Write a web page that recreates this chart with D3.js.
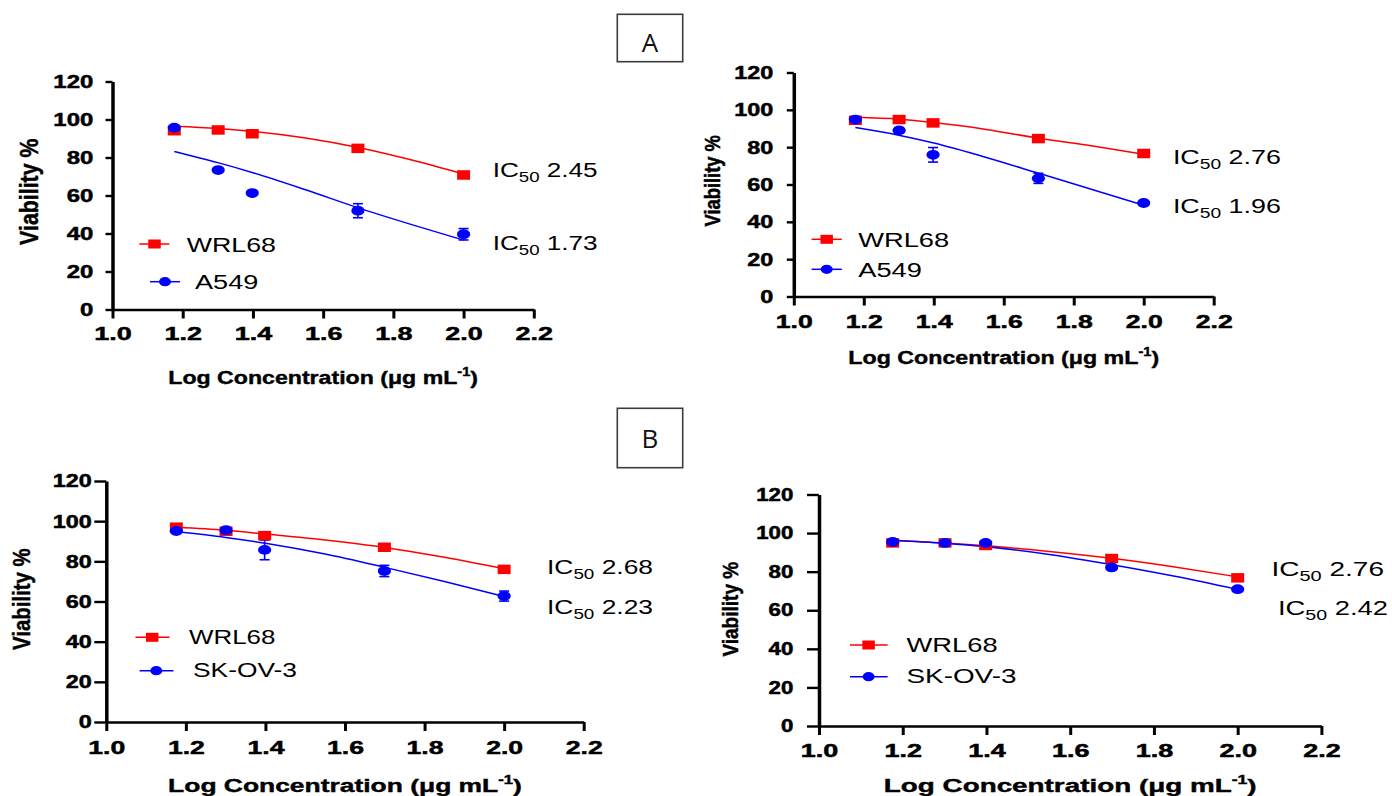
<!DOCTYPE html>
<html>
<head>
<meta charset="utf-8">
<script src="https://cdn.jsdelivr.net/npm/d3@7"></script>
<style>
  html, body { margin: 0; padding: 0; background: #fff; }
  svg { display: block; }
</style>
</head>
<body>
<svg id="fig" width="1392" height="796"></svg>
<script>
// ---------- data ----------
// log10 of 15, 20, 25, 50 and 100 µg/mL
const logConc = [1.176, 1.301, 1.398, 1.699, 2.0];
// points along each fitted dose-response curve
const fitConc = [1.176, 1.3, 1.4, 1.55, 1.7, 1.85, 2.0];
const xTicks = [1.0, 1.2, 1.4, 1.6, 1.8, 2.0, 2.2];
const yTicks = [0, 20, 40, 60, 80, 100, 120];
const normalCell = "WRL68";
const cancerCells = ["A549", "A549", "SK-OV-3", "SK-OV-3"];

// Panel A, left
const wrlA1 = [94.1, 94.5, 92.5, 84.8, 70.8];
const wrlA1Err = [0.8, 0.8, 0.8, 0.8, 0.8];
const wrlA1Fit = [96.5, 95.3, 93.8, 90.3, 85.3, 78.8, 71.3];
const canA1 = [95.7, 73.4, 61.3, 52.0, 39.6];
const canA1Err = [0, 0, 0, 3.7, 3.0];
const canA1Fit = [83.2, 77.3, 72.0, 63.0, 53.5, 44.8, 36.5];
const ic50A1 = [2.45, 1.73];

// Panel A, right
const wrlA2 = [94.4, 94.8, 93.0, 84.6, 76.6];
const wrlA2Err = [0.8, 0.8, 0.8, 0.8, 0.8];
const wrlA2Fit = [96.0, 95.0, 93.2, 89.5, 84.8, 80.7, 76.2];
const canA2 = [94.8, 89.0, 75.9, 63.3, 50.1];
const canA2Err = [0, 1.5, 3.9, 2.7, 0.8];
const canA2Fit = [90.5, 86.4, 82.2, 74.5, 66.0, 57.5, 48.9];
const ic50A2 = [2.76, 1.96];

// Panel B, left
const wrlB1 = [97.0, 95.0, 92.8, 87.0, 76.0];
const wrlB1Err = [0.8, 0.8, 0.8, 0.8, 0.8];
const wrlB1Fit = [97.0, 95.5, 93.6, 90.6, 86.9, 82.0, 76.3];
const canB1 = [95.1, 95.5, 85.7, 75.2, 62.7];
const canB1Err = [0, 0, 4.9, 2.8, 2.5];
const canB1Fit = [94.8, 91.9, 89.0, 83.6, 77.0, 70.0, 62.5];
const ic50B1 = [2.68, 2.23];

// Panel B, right
const wrlB2 = [94.9, 94.9, 93.6, 86.8, 76.8];
const wrlB2Err = [0.8, 0.8, 0.8, 0.8, 0.8];
const wrlB2Fit = [96.3, 94.9, 93.4, 90.5, 86.9, 82.4, 77.3];
const canB2 = [95.4, 94.9, 94.9, 82.2, 70.9];
const canB2Err = [0, 0, 0, 0.8, 0.8];
const canB2Fit = [96.3, 94.7, 92.9, 88.9, 83.6, 77.6, 70.8];
const ic50B2 = [2.76, 2.42];

const panelLetters = ["A", "B"];

// ---------- layout ----------
const RED = "#ff0000", BLUE = "#0000ff";
const FONT = "'Liberation Sans', Arial, sans-serif";

const layouts = [
  { plot: { l: 112.5, r: 533.8, t: 81.5, b: 309.5 }, yTickLen: 7, yLabRight: 93.3, yLabW: 40, yLabSize: 19,
    xLabTop: 326, xLabW: 37.5, xLabSize: 19,
    yTitle: { cx: 28.7, cy: 191.7, len: 106.7 }, xTitle: { base: 384, w: 310 },
    legend: [{ y: 244, x1: 139.3, x2: 169.3, mx: 154.5, tx: 186.7, base: 252.3, w: 89.3 },
             { y: 281.7, x1: 150, x2: 180, mx: 165, tx: 195, base: 289.3, w: 63.3 }],
    ic50: [{ x: 492.7, base: 177.3, w: 105 }, { x: 492.7, base: 250, w: 105 }] },
  { plot: { l: 793.8, r: 1213.7, t: 72.5, b: 296.5 }, yTickLen: 7, yLabRight: 773.3, yLabW: 39, yLabSize: 18.3,
    xLabTop: 314.5, xLabW: 37, xLabSize: 18.5,
    yTitle: { cx: 712, cy: 180.8, len: 91.7 }, xTitle: { base: 364, w: 311 },
    legend: [{ y: 239.3, x1: 811.6, x2: 841.8, mx: 826.7, tx: 858.2, base: 246.7, w: 91 },
             { y: 269.3, x1: 811.6, x2: 841.8, mx: 826.7, tx: 858.2, base: 276.7, w: 63.7 }],
    ic50: [{ x: 1172.9, base: 164.3, w: 108 }, { x: 1172.9, base: 213.3, w: 108 }] },
  { plot: { l: 106.3, r: 583.7, t: 481, b: 722 }, yTickLen: 12, yLabRight: 91.7, yLabW: 39, yLabSize: 18.7,
    xLabTop: 740.5, xLabW: 37, xLabSize: 19,
    yTitle: { cx: 21, cy: 599.2, len: 101.7 }, xTitle: { base: 791.7, w: 354 },
    legend: [{ y: 637.3, x1: 135.5, x2: 169.4, mx: 152.2, tx: 189, base: 644.3, w: 86.5 },
             { y: 670.7, x1: 139.6, x2: 173.5, mx: 156.3, tx: 193, base: 677.3, w: 104 }],
    ic50: [{ x: 547, base: 574.3, w: 106 }, { x: 547, base: 614.3, w: 106 }] },
  { plot: { l: 819, r: 1321.4, t: 494.5, b: 726 }, yTickLen: 12, yLabRight: 793.3, yLabW: 37.5, yLabSize: 17.5,
    xLabTop: 744.5, xLabW: 37.5, xLabSize: 18,
    yTitle: { cx: 730, cy: 609.2, len: 95 }, xTitle: { base: 791.7, w: 373 },
    legend: [{ y: 645, x1: 850, x2: 887.6, mx: 868.6, tx: 906.5, base: 652.3, w: 91.3 },
             { y: 676.7, x1: 850, x2: 887.6, mx: 868.6, tx: 906.5, base: 683.3, w: 110 }],
    ic50: [{ x: 1271.5, base: 576, w: 112.5 }, { x: 1278, base: 615, w: 110 }] }
];

const panelData = [
  { wrl: wrlA1, wrlErr: wrlA1Err, wrlFit: wrlA1Fit, can: canA1, canErr: canA1Err, canFit: canA1Fit, ic50: ic50A1 },
  { wrl: wrlA2, wrlErr: wrlA2Err, wrlFit: wrlA2Fit, can: canA2, canErr: canA2Err, canFit: canA2Fit, ic50: ic50A2 },
  { wrl: wrlB1, wrlErr: wrlB1Err, wrlFit: wrlB1Fit, can: canB1, canErr: canB1Err, canFit: canB1Fit, ic50: ic50B1 },
  { wrl: wrlB2, wrlErr: wrlB2Err, wrlFit: wrlB2Fit, can: canB2, canErr: canB2Err, canFit: canB2Fit, ic50: ic50B2 }
];

const letterBoxes = [
  { x: 617.3, y: 14.3, w: 65.4, h: 47.4, base: 52.3 },
  { x: 617.3, y: 408.3, w: 65.4, h: 59.4, base: 447.7 }
];

const svg = d3.select("#fig");

// horizontal text squeezed/stretched to a given width
function fitText(parent, x, y, build, targetW, size, weight, anchor, heavy) {
  const t = parent.append("text")
    .attr("font-family", FONT).attr("font-size", size).attr("font-weight", weight)
    .attr("text-anchor", anchor || "start").attr("fill", "#000");
  if (heavy) t.attr("stroke", "#000").attr("stroke-width", heavy).attr("paint-order", "stroke");
  build(t);
  const w = t.node().getBBox().width;
  const sx = targetW ? targetW / w : 1;
  t.attr("transform", `translate(${x},${y}) scale(${sx},1)`);
  return t;
}

function square(g, cx, cy, w, h, color) {
  g.append("rect").attr("x", cx - w / 2).attr("y", cy - h / 2).attr("width", w).attr("height", h).attr("fill", color);
}
function dot(g, cx, cy, rx, ry, color) {
  g.append("ellipse").attr("cx", cx).attr("cy", cy).attr("rx", rx).attr("ry", ry).attr("fill", color);
}

layouts.forEach((L, i) => {
  const D = panelData[i];
  const g = svg.append("g");
  const x = d3.scaleLinear().domain([1.0, 2.2]).range([L.plot.l, L.plot.r]);
  const y = d3.scaleLinear().domain([0, 120]).range([L.plot.b, L.plot.t]);

  // fitted curves
  const line = d3.line().x(d => x(d[0])).y(d => y(d[1])).curve(d3.curveMonotoneX);
  g.append("path").datum(fitConc.map((c, k) => [c, D.wrlFit[k]]))
    .attr("d", line).attr("fill", "none").attr("stroke", RED).attr("stroke-width", 1.5);
  g.append("path").datum(fitConc.map((c, k) => [c, D.canFit[k]]))
    .attr("d", line).attr("fill", "none").attr("stroke", BLUE).attr("stroke-width", 1.5);

  // error bars
  function errBars(vals, errs, color) {
    vals.forEach((v, k) => {
      const e = errs[k];
      if (!e) return;
      const cx = x(logConc[k]);
      g.append("line").attr("x1", cx).attr("x2", cx).attr("y1", y(v - e)).attr("y2", y(v + e))
        .attr("stroke", color).attr("stroke-width", 1.6);
      [v - e, v + e].forEach(yy => g.append("line").attr("x1", cx - 5).attr("x2", cx + 5)
        .attr("y1", y(yy)).attr("y2", y(yy)).attr("stroke", color).attr("stroke-width", 1.6));
    });
  }
  errBars(D.wrl, D.wrlErr, RED);
  errBars(D.can, D.canErr, BLUE);

  // markers
  D.wrl.forEach((v, k) => square(g, x(logConc[k]), y(v), 13, 9.5, RED));
  D.can.forEach((v, k) => dot(g, x(logConc[k]), y(v), 6.6, 4.9, BLUE));

  // y axis
  const ya = g.append("g").attr("transform", `translate(${L.plot.l},0)`)
    .call(d3.axisLeft(y).tickValues(yTicks).tickSize(L.yTickLen).tickSizeOuter(0).tickFormat(d3.format("d")));
  ya.select(".domain").attr("stroke", "#000").attr("stroke-width", 3.5);
  ya.selectAll(".tick line").attr("stroke", "#000").attr("stroke-width", 2.4);
  const yt = ya.selectAll(".tick text").attr("font-family", FONT).attr("font-size", L.yLabSize)
    .attr("font-weight", "bold").attr("fill", "#000")
    .attr("stroke", "#000").attr("stroke-width", 0.5).attr("paint-order", "stroke");
  const yRef = yt.filter(d => d === 120).node().getBBox().width;
  const ysx = L.yLabW / yRef;
  yt.attr("x", -(L.plot.l - L.yLabRight) / ysx).attr("transform", `scale(${ysx},1)`);

  // x axis
  const xa = g.append("g").attr("transform", `translate(0,${L.plot.b})`)
    .call(d3.axisBottom(x).tickValues(xTicks).tickSize(9).tickSizeOuter(0).tickFormat(d3.format(".1f")));
  xa.select(".domain").attr("stroke", "#000").attr("stroke-width", 2.5);
  xa.selectAll(".tick line").attr("stroke", "#000").attr("stroke-width", 3);
  const xt = xa.selectAll(".tick text").attr("font-family", FONT).attr("font-size", L.xLabSize)
    .attr("font-weight", "bold").attr("fill", "#000")
    .attr("stroke", "#000").attr("stroke-width", 0.5).attr("paint-order", "stroke");
  const xRef = xt.filter(d => d === 1.0).node().getBBox().width;
  const xsx = L.xLabW / xRef;
  xt.attr("y", L.xLabTop - L.plot.b).attr("dy", "0.72em").attr("x", 0)
    .attr("transform", `scale(${xsx},1)`);

  // y title
  const yTitle = g.append("text").attr("font-family", FONT).attr("font-weight", "bold")
    .attr("font-size", 20).attr("text-anchor", "middle")
    .attr("stroke", "#000").attr("stroke-width", 0.4).attr("paint-order", "stroke")
    .text("Viability %");
  const yl = yTitle.node().getBBox().width;
  yTitle.attr("font-size", 20 * L.yTitle.len / yl)
    .attr("transform", `translate(${L.yTitle.cx},${L.yTitle.cy}) rotate(-90) scale(1,1.2)`)
    .attr("dy", "0.35em");

  // x title
  fitText(g, (L.plot.l + L.plot.r) / 2, L.xTitle.base, t => {
    t.append("tspan").text("Log Concentration (μg mL");
    t.append("tspan").attr("font-size", 12).attr("dy", -8).text("-1");
    t.append("tspan").attr("dy", 8).text(")");
  }, L.xTitle.w, 19, "bold", "middle", 0.4);

  // legend
  const names = [normalCell, cancerCells[i]];
  const colors = [RED, BLUE];
  L.legend.forEach((lg, k) => {
    g.append("line").attr("x1", lg.x1).attr("x2", lg.x2).attr("y1", lg.y).attr("y2", lg.y)
      .attr("stroke", colors[k]).attr("stroke-width", 1.5);
    if (k === 0) square(g, lg.mx, lg.y, 12.5, 9, RED);
    else dot(g, lg.mx, lg.y, 6, 4.6, BLUE);
    fitText(g, lg.tx, lg.base, t => t.text(names[k]), lg.w, 21, "normal", "start");
  });

  // IC50 annotations
  L.ic50.forEach((lab, k) => {
    fitText(g, lab.x, lab.base, t => {
      t.append("tspan").text("IC");
      t.append("tspan").attr("font-size", 15).attr("dy", 4.5).text("50");
      t.append("tspan").attr("dy", -4.5).text(" " + D.ic50[k].toFixed(2));
    }, lab.w, 21, "normal", "start");
  });
});

// panel letters
letterBoxes.forEach((b, i) => {
  svg.append("rect").attr("x", b.x).attr("y", b.y).attr("width", b.w).attr("height", b.h)
    .attr("fill", "#fff").attr("stroke", "#3c3c3c").attr("stroke-width", 1.6);
  svg.append("text").attr("x", b.x + b.w / 2).attr("y", b.base).attr("text-anchor", "middle")
    .attr("font-family", "'Open Sans', 'Liberation Sans', sans-serif").attr("font-size", 26)
    .attr("fill", "#111").text(panelLetters[i]);
});
</script>
</body>
</html>
